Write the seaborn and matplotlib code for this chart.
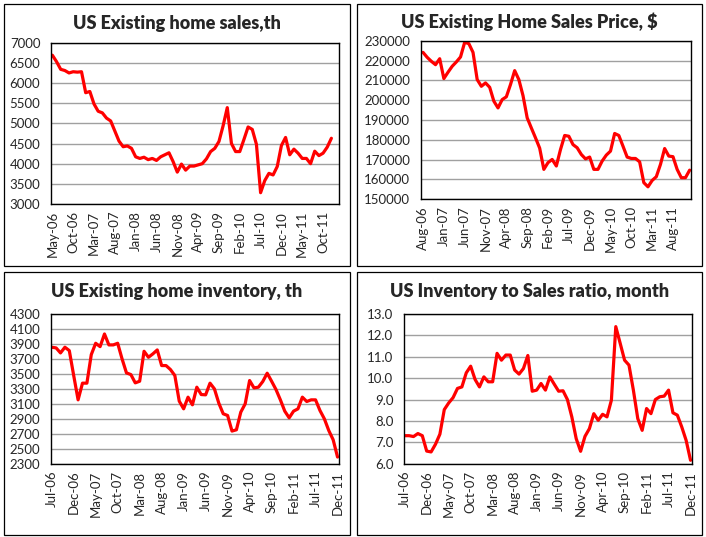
import matplotlib
matplotlib.use("Agg")
import matplotlib.pyplot as plt
import seaborn as sns
import numpy as np
import pandas as pd
from matplotlib.patches import Rectangle

# monthly series
sales = [6690, 6530, 6340, 6310, 6250, 6280, 6270, 6280, 5760, 5790,
         5480, 5300, 5260, 5130, 5060, 4810, 4560, 4420, 4440, 4380,
         4170, 4130, 4160, 4100, 4130, 4080, 4170, 4220, 4270, 4050,
         3790, 3990, 3840, 3940, 3940, 3970, 4000, 4120, 4300, 4380,
         4550, 4940, 5390, 4500, 4300, 4300, 4600, 4910, 4850, 4480,
         3280, 3580, 3760, 3720, 3930, 4450, 4650, 4220, 4360, 4260,
         4130, 4130, 4000, 4310, 4200, 4260, 4410, 4630]

price = [224100, 221600, 219600, 217900, 220900, 210900, 214100, 217100, 219300, 221800,
         229200, 228500, 224100, 210400, 207000, 208700, 206500, 199500, 196100, 200300,
         201700, 207900, 214900, 210400, 202300, 191100, 186000, 181000, 175800, 165100,
         168500, 170100, 166800, 175100, 182200, 181800, 177600, 176000, 172600, 170400,
         171300, 165100, 165100, 169300, 172300, 174300, 183200, 182200, 176800, 171300,
         170600, 170600, 168900, 158400, 156300, 159500, 161400, 167600, 175600, 171800,
         171500, 165100, 160900, 160900, 164700]

inventory = [3856, 3847, 3780, 3856, 3811, 3478, 3153, 3376, 3376, 3758,
             3909, 3864, 4033, 3887, 3887, 3909, 3700, 3513, 3491, 3380,
             3402, 3802, 3722, 3767, 3820, 3611, 3611, 3558, 3478, 3136,
             3033, 3189, 3087, 3322, 3224, 3220, 3376, 3300, 3109, 2967,
             2944, 2736, 2753, 2989, 3100, 3411, 3313, 3322, 3398, 3509,
             3402, 3291, 3153, 3002, 2913, 3002, 3033, 3189, 3131, 3153,
             3153, 3011, 2900, 2744, 2620, 2389]

ratio = [7.31, 7.31, 7.27, 7.41, 7.31, 6.59, 6.55, 6.91, 7.38, 8.53,
         8.84, 9.09, 9.52, 9.59, 10.25, 10.56, 9.94, 9.59, 10.06, 9.83,
         9.83, 11.16, 10.84, 11.08, 11.08, 10.38, 10.19, 10.45, 11.06, 9.39,
         9.44, 9.75, 9.44, 10.06, 9.72, 9.39, 9.41, 9.00, 8.19, 7.17,
         6.58, 7.28, 7.64, 8.34, 8.03, 8.31, 8.19, 8.97, 12.41, 11.63,
         10.84, 10.61, 9.44, 8.11, 7.56, 8.58, 8.34, 9.00, 9.13, 9.16,
         9.44, 8.38, 8.27, 7.72, 7.09, 6.16]

sales_months = pd.date_range("2006-05-01", periods=len(sales), freq="MS").strftime("%b-%y").tolist()
price_months = pd.date_range("2006-08-01", periods=len(price), freq="MS").strftime("%b-%y").tolist()
inv_months = pd.date_range("2006-07-01", periods=len(inventory), freq="MS").strftime("%b-%y").tolist()

titles = ["US Existing home sales,th", "US Existing Home Sales Price, $",
          "US Existing home inventory, th", "US Inventory to Sales ratio, month"]

sns.set_style("white")
plt.rcParams['font.family'] = ['Lato', 'DejaVu Sans']

W, H = 706, 537
fig = plt.figure(figsize=(W / 100, H / 100), dpi=100)

# outer boxes (px: left, top, right, bottom)
boxes = [(4, 4, 350, 266), (357, 4, 702, 266), (4, 272, 350, 535), (357, 272, 702, 535)]
# plot areas (px)
areas = [(50.7, 42.7, 339.3, 204), (420.7, 40.7, 691.3, 199.3),
         (50.7, 314, 339.3, 463.7), (403.7, 314, 692.3, 463.7)]
title_y = [23, 22, 292, 292]

for l, t, r, b in boxes:
    fig.patches.append(Rectangle((l / W, 1 - b / H), (r - l) / W, (b - t) / H,
                                 transform=fig.transFigure, fill=False,
                                 edgecolor="black", linewidth=0.9))

panels = [
    (sales, sales_months, (3000, 7000), 500, (-0.4, 68.9), "{:.0f}"),
    (price, price_months, (150000, 230000), 10000, (-0.56, 64.4), "{:.0f}"),
    (inventory, inv_months, (2300, 4300), 200, (-0.23, 65.4), "{:.0f}"),
    (ratio, inv_months, (6, 13), 1, (-0.23, 65.4), "{:.1f}"),
]

for k, (vals, months, ylim, ystep, xlim, fmt) in enumerate(panels):
    l, t, r, b = areas[k]
    ax = fig.add_axes([l / W, 1 - b / H, (r - l) / W, (b - t) / H])
    df = pd.DataFrame({"x": np.arange(len(vals)), "y": vals})
    sns.lineplot(data=df, x="x", y="y", ax=ax, color="#ff0000", linewidth=2.3)
    ax.set_xlim(*xlim)
    ax.set_ylim(*ylim)
    yt = np.arange(ylim[0], ylim[1] + ystep / 2, ystep)
    ax.set_yticks(yt)
    ax.set_yticklabels([fmt.format(v) for v in yt], fontsize=9.5)
    xt = list(range(0, len(vals), 5))
    ax.set_xticks(xt)
    ax.set_xticklabels([months[i] for i in xt], rotation=90, fontsize=9.5)
    ax.set_xlabel("")
    ax.set_ylabel("")
    ax.grid(axis="y", color="#a0a0a0", linewidth=1)
    ax.set_axisbelow(True)
    ax.tick_params(axis="y", length=0, pad=7.5)
    ax.tick_params(axis="x", length=0, pad=5)
    for s in ax.spines.values():
        s.set_color("black")
        s.set_linewidth(1)
    cx = ((boxes[k][0] + boxes[k][2]) / 2) / W
    fig.text(cx, 1 - title_y[k] / H, titles[k], ha="center", va="center",
             fontsize=13, fontweight="heavy")

fig.savefig("out.png", dpi=100)
